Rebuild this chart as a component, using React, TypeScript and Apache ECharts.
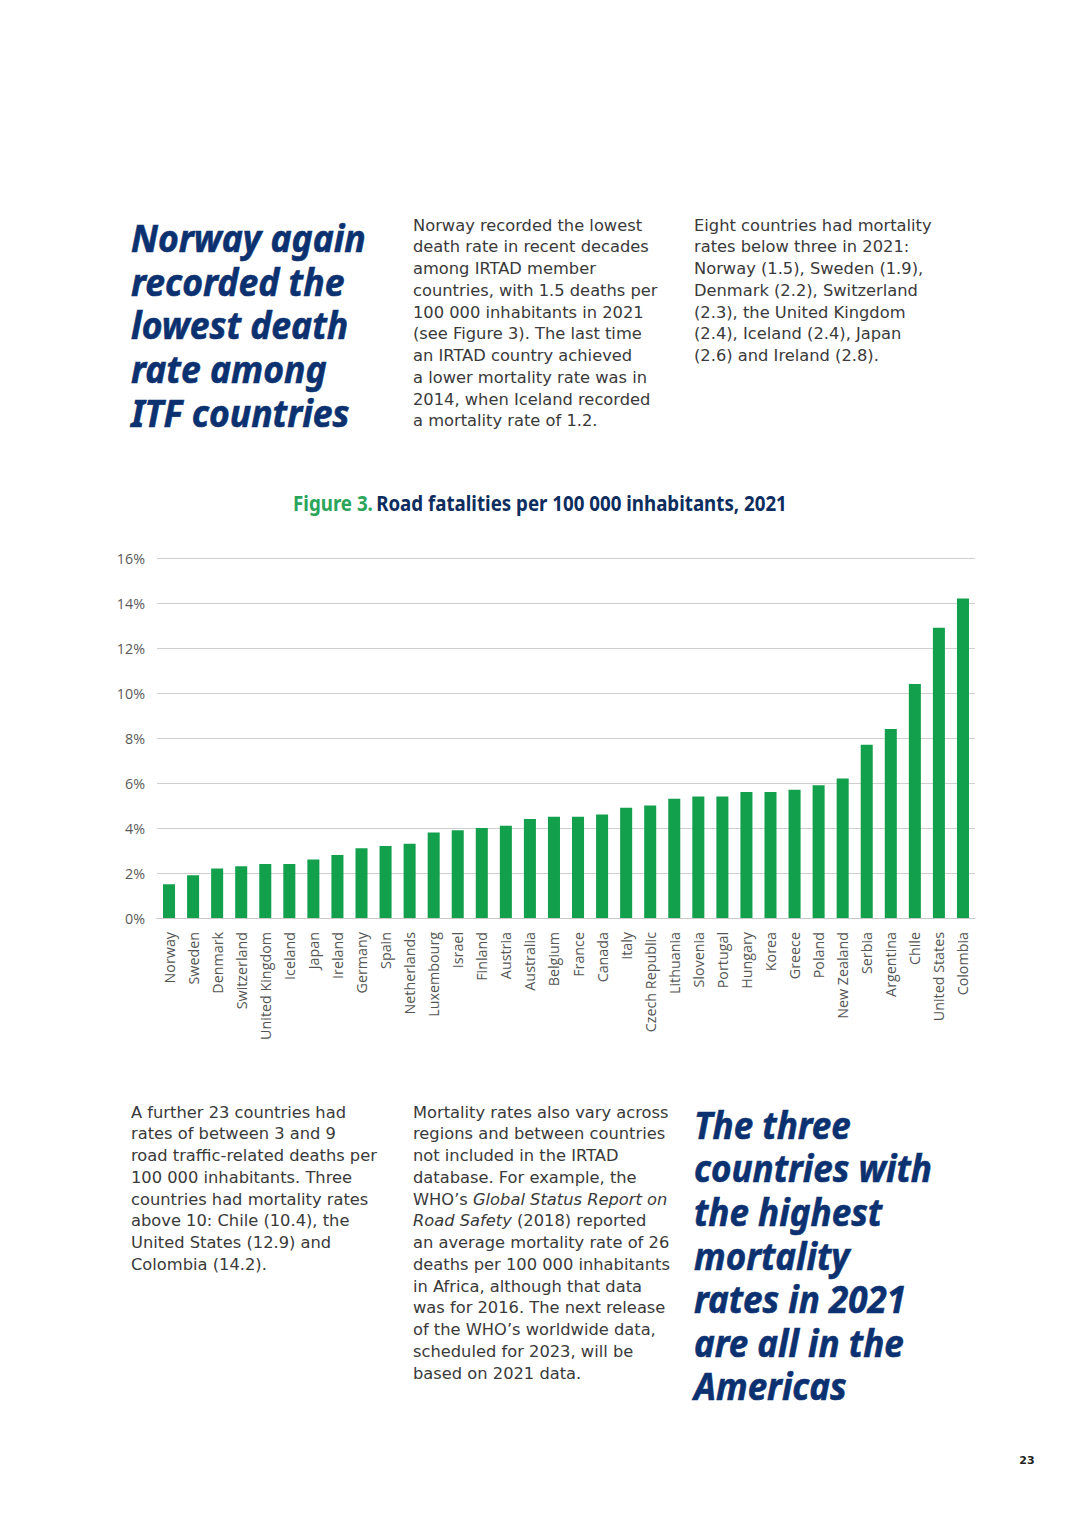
import React, { useEffect, useRef } from "react";
import * as echarts from "echarts";

const countries = [
  "Norway", "Sweden", "Denmark", "Switzerland", "United Kingdom", "Iceland", "Japan", "Ireland",
  "Germany", "Spain", "Netherlands", "Luxembourg", "Israel", "Finland", "Austria", "Australia",
  "Belgium", "France", "Canada", "Italy", "Czech Republic", "Lithuania", "Slovenia", "Portugal",
  "Hungary", "Korea", "Greece", "Poland", "New Zealand", "Serbia", "Argentina", "Chile",
  "United States", "Colombia",
];
const fatalities = [
  1.5, 1.9, 2.2, 2.3, 2.4, 2.4, 2.6, 2.8,
  3.1, 3.2, 3.3, 3.8, 3.9, 4.0, 4.1, 4.4,
  4.5, 4.5, 4.6, 4.9, 5.0, 5.3, 5.4, 5.4,
  5.6, 5.6, 5.7, 5.9, 6.2, 7.7, 8.4, 10.4,
  12.9, 14.2,
];

const titleGreen = "Figure 3.";
const titleMain = "Road fatalities per 100 000 inhabitants, 2021";

const headingTop = ["Norway again", "recorded the", "lowest death", "rate among", "ITF countries"];
const headingBottom = ["The three", "countries with", "the highest", "mortality", "rates in 2021", "are all in the", "Americas"];

const para1 = [
  "Norway recorded the lowest",
  "death rate in recent decades",
  "among IRTAD member",
  "countries, with 1.5 deaths per",
  "100 000 inhabitants in 2021",
  "(see Figure 3). The last time",
  "an IRTAD country achieved",
  "a lower mortality rate was in",
  "2014, when Iceland recorded",
  "a mortality rate of 1.2.",
];
const para2 = [
  "Eight countries had mortality",
  "rates below three in 2021:",
  "Norway (1.5), Sweden (1.9),",
  "Denmark (2.2), Switzerland",
  "(2.3), the United Kingdom",
  "(2.4), Iceland (2.4), Japan",
  "(2.6) and Ireland (2.8).",
];
const para3 = [
  "A further 23 countries had",
  "rates of between 3 and 9",
  "road traffic-related deaths per",
  "100 000 inhabitants. Three",
  "countries had mortality rates",
  "above 10: Chile (10.4), the",
  "United States (12.9) and",
  "Colombia (14.2).",
];
const para4 = [
  "Mortality rates also vary across",
  "regions and between countries",
  "not included in the IRTAD",
  "database. For example, the",
  "WHO\u2019s {i|Global Status Report on}",
  "{i|Road Safety} (2018) reported",
  "an average mortality rate of 26",
  "deaths per 100 000 inhabitants",
  "in Africa, although that data",
  "was for 2016. The next release",
  "of the WHO\u2019s worldwide data,",
  "scheduled for 2023, will be",
  "based on 2021 data.",
];
const pageNumber = "23";

const NAVY = "#0c3170";
const GREEN = "#12a04c";
const BODY = "#3a3a3a";
const HEAD_FONT = "'Noto Sans', 'Open Sans', sans-serif";
const BODY_FONT = "'DejaVu Sans', Verdana, sans-serif";
const CHART_FONT = "'Open Sans', sans-serif";
const BODY_SIZE = 16.3;
const HEAD_SIZE = 37;
const TITLE_SIZE = 21;

function measure(text: string, font: string): number {
  const ctx = document.createElement("canvas").getContext("2d");
  if (!ctx) return 0;
  ctx.font = font;
  return ctx.measureText(text).width;
}

function bodyText(lines: string[], x: number, firstCenter: number) {
  const lh = 21.75;
  return {
    type: "text",
    x,
    y: firstCenter - lh / 2,
    style: {
      text: lines.join("\n"),
      fontSize: BODY_SIZE,
      fontFamily: BODY_FONT,
      fill: BODY,
      lineHeight: lh,
      verticalAlign: "top",
      align: "left",
      rich: {
        i: { fontStyle: "italic", fontSize: BODY_SIZE, fontFamily: BODY_FONT, fill: BODY, lineHeight: lh },
      },
    },
  };
}

function headingText(lines: string[], x: number, firstCenter: number, refLine: string, refWidth: number) {
  const lh = 43.6;
  const w = measure(refLine, `italic bold ${HEAD_SIZE}px ${HEAD_FONT}`);
  const sx = w > 0 ? refWidth / w : 1;
  return {
    type: "text",
    x,
    y: firstCenter - lh / 2,
    scaleX: sx,
    style: {
      text: lines.join("\n"),
      fontSize: HEAD_SIZE,
      fontWeight: "bold",
      fontStyle: "italic",
      fontFamily: HEAD_FONT,
      fill: NAVY,
      stroke: NAVY,
      lineWidth: 0.6,
      lineHeight: lh,
      verticalAlign: "top",
      align: "left",
    },
  };
}

export default function App() {
  const ref = useRef<HTMLDivElement>(null);
  useEffect(() => {
    if (!ref.current) return;
    const chart = echarts.init(ref.current, undefined, { renderer: "svg" });
    const titleW = measure(`${titleGreen} ${titleMain}`, `bold ${TITLE_SIZE}px ${HEAD_FONT}`);
    const titleScale = titleW > 0 ? 496 / titleW : 1;
    chart.setOption({
      animation: false,
      backgroundColor: "#ffffff",
      grid: { left: 157, right: 105, top: 558, bottom: 610, containLabel: false },
      xAxis: {
        type: "category",
        data: countries,
        axisLine: { show: true, lineStyle: { color: "#c8c8c8", width: 1 } },
        axisTick: { show: false },
        axisLabel: {
          rotate: 90,
          interval: 0,
          margin: 14,
          color: "#555555",
          fontSize: 14.3,
          fontFamily: CHART_FONT,
        },
      },
      yAxis: {
        type: "value",
        min: 0,
        max: 16,
        interval: 2,
        axisLine: { show: false },
        axisTick: { show: false },
        splitLine: { lineStyle: { color: "#cfcfcf", width: 1 } },
        axisLabel: {
          formatter: "{value}%",
          margin: 12,
          color: "#5a5a5a",
          fontSize: 14.3,
          fontFamily: CHART_FONT,
        },
      },
      series: [
        {
          type: "bar",
          data: fatalities,
          barWidth: "50%",
          itemStyle: { color: GREEN },
        },
      ],
      graphic: [
        headingText(headingTop, 131, 238, "Norway again", 235),
        bodyText(para1, 413, 225),
        bodyText(para2, 694, 225),
        {
          type: "text",
          x: 540,
          y: 503,
          scaleX: titleScale,
          style: {
            text: `{g|${titleGreen}} {b|${titleMain}}`,
            align: "center",
            verticalAlign: "middle",
            rich: {
              g: { fill: "#2aa55a", fontSize: TITLE_SIZE, fontWeight: "bold", fontFamily: HEAD_FONT },
              b: { fill: "#0c2d5e", fontSize: TITLE_SIZE, fontWeight: "bold", fontFamily: HEAD_FONT },
            },
          },
        },
        bodyText(para3, 131, 1112),
        bodyText(para4, 413, 1112),
        headingText(headingBottom, 694, 1125, "countries with", 238),
        {
          type: "text",
          x: 1027,
          y: 1460,
          style: {
            text: pageNumber,
            align: "center",
            verticalAlign: "middle",
            fontSize: 11,
            fontWeight: "bold",
            fontFamily: BODY_FONT,
            fill: "#222222",
          },
        },
      ],
    });
    return () => chart.dispose();
  }, []);
  return (
    <div
      ref={ref}
      style={{ position: "absolute", left: 0, top: 0, width: 1080, height: 1528, background: "#fff" }}
    />
  );
}
